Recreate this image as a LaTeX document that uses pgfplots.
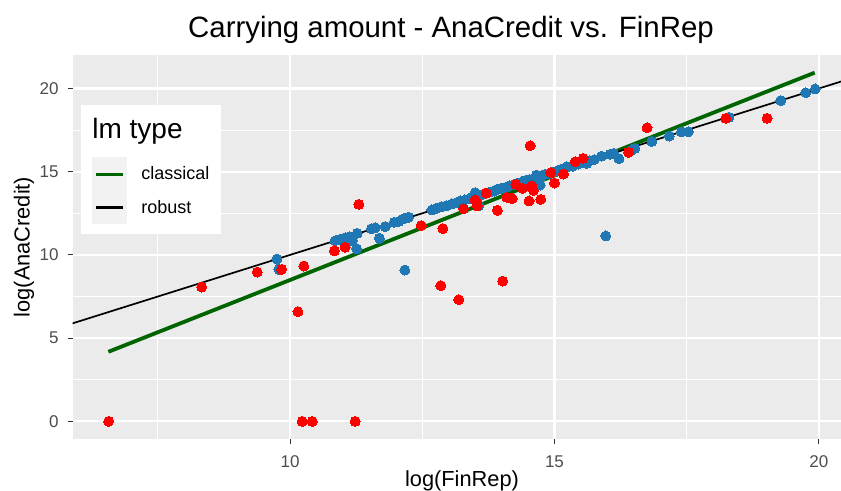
\documentclass[border=0pt]{standalone}
\usepackage{pgfplots}
\pgfplotsset{compat=1.18}
\usepackage{fontspec}
\setmainfont{Liberation Sans}
\definecolor{ggbg}{HTML}{EBEBEB}
\definecolor{ggkey}{HTML}{F2F2F2}
\definecolor{ggtick}{HTML}{333333}
\definecolor{gglab}{HTML}{4D4D4D}
\definecolor{ptblue}{HTML}{1F77B4}
\definecolor{ptred}{HTML}{FF0000}
\definecolor{lgreen}{HTML}{006400}
\begin{document}
\begin{tikzpicture}
\useasboundingbox (-36.35bp,-26bp) rectangle (384.15bp,219.5bp);
\begin{axis}[
  at={(0,0)}, anchor=south west,
  scale only axis, width=384.2bp, height=191.9bp,
  xmin=5.89, xmax=20.42, ymin=-1.06, ymax=22.0,
  axis background/.style={fill=ggbg},
  axis line style={draw=none},
  xtick={10,15,20}, ytick={0,5,10,15,20},
  minor xtick={7.5,12.5,17.5}, minor ytick={2.5,7.5,12.5,17.5},
  grid=both,
  major grid style={white, line width=1.07bp},
  minor grid style={white, line width=0.55bp},
  tick align=outside, major tick length=2.3bp, minor tick length=0pt,
  xtick pos=bottom, ytick pos=left,
  tick style={color=ggtick, line width=0.55bp},
  /pgf/number format/assume math mode=true,
  ticklabel style={font=\fontsize{8.5bp}{9bp}\selectfont, text=gglab, inner sep=0pt},
  xticklabel style={anchor=base, yshift=-11.7bp},
  yticklabel style={anchor=east, xshift=-4.6bp},
  clip=true,
]
\addplot[only marks, mark=*, mark size=2.5bp, color=ptblue, mark options={draw=ptblue, fill=ptblue, line width=0pt}] coordinates {
(9.75,9.75) (9.79,9.13) (10.85,10.85) (10.95,10.94) (11.04,11.03) (11.13,11.09)
(11.18,10.85) (11.27,11.30) (11.26,10.37) (11.54,11.56) (11.61,11.63) (11.69,11.00)
(11.80,11.70) (11.97,11.96) (12.05,12.00) (12.14,12.16) (12.24,12.26) (12.17,9.09)
(12.68,12.70) (12.77,12.80) (12.87,12.90) (12.96,12.96) (13.06,13.06) (13.15,13.14)
(13.22,13.24) (13.30,13.30) (13.38,13.36) (13.45,13.47) (13.50,13.74) (13.55,13.55)
(13.62,13.60) (13.70,13.72) (13.78,13.78) (13.86,13.84) (13.93,13.95) (14.00,14.01)
(14.08,14.06) (14.15,14.16) (14.22,14.21) (14.30,14.30) (14.38,14.37) (14.45,14.47)
(14.52,14.52) (14.60,14.58) (14.66,14.80) (14.73,14.20) (14.75,14.72) (14.82,14.84)
(14.90,14.88) (14.97,14.98) (15.05,15.04) (15.12,15.14) (15.23,15.30) (15.35,15.34)
(15.45,15.46) (15.61,15.50) (15.67,15.66) (15.75,15.72) (15.89,15.94) (16.05,16.04)
(16.22,15.78) (16.12,16.10) (16.46,16.30) (16.52,16.40) (16.84,16.82) (17.17,17.14)
(17.40,17.40) (17.53,17.40) (18.30,18.27) (19.28,19.27) (19.75,19.75) (19.93,19.97)
(15.97,11.14) (13.57,12.96)
};
\addplot[lgreen, line width=1.9bp] coordinates {(6.565,4.18) (19.92,20.95)};
\addplot[black, line width=0.85bp] coordinates {(5.5,5.5) (21,21)};
\addplot[only marks, mark=*, mark size=2.5bp, color=ptred, mark options={draw=ptred, fill=ptred, line width=0pt}] coordinates {
(6.57,0) (8.33,8.07) (9.38,8.97) (9.84,9.13) (10.26,9.33) (10.15,6.59)
(10.23,0) (10.42,0) (11.23,0) (10.84,10.25) (11.04,10.46) (11.30,13.04)
(12.48,11.76) (12.89,11.58) (12.85,8.15) (13.19,7.31) (14.02,8.43) (13.28,12.78)
(13.50,13.30) (13.53,13.10) (13.54,12.94) (13.71,13.72) (13.92,12.68) (14.10,13.46)
(14.20,13.38) (14.27,14.24) (14.40,14.00) (14.57,14.16) (14.60,13.88) (14.52,13.24)
(14.74,13.34) (14.54,16.56) (14.93,14.94) (15.00,14.32) (15.17,14.86) (15.39,15.60)
(15.54,15.80) (16.40,16.16) (16.75,17.64) (18.24,18.21) (19.02,18.21)
};
\end{axis}
% title and axis titles
\node[anchor=base, font=\fontsize{14.7bp}{16bp}\selectfont] at (189.15bp,200.5bp) {Carrying amount - AnaCredit vs. FinRep};
\node[anchor=base, font=\fontsize{10.9bp}{12bp}\selectfont] at (194.65bp,-23.5bp) {log(FinRep)};
\node[anchor=base, rotate=90, font=\fontsize{10.9bp}{12bp}\selectfont] at (-21.5bp,96bp) {log(AnaCredit)};
% legend
\fill[white] (4.15bp,102.35bp) rectangle (74.0bp,167bp);
\fill[ggkey] (9.8bp,107.5bp) rectangle (27.0bp,141.15bp);
\draw[lgreen, line width=1.6bp] (11.65bp,132.35bp) -- (25.15bp,132.35bp);
\draw[black, line width=1.6bp] (11.65bp,115.65bp) -- (25.15bp,115.65bp);
\node[anchor=base west, inner sep=0pt, font=\fontsize{14bp}{16bp}\selectfont] at (9.65bp,150bp) {lm type};
\node[anchor=base west, inner sep=0pt, font=\fontsize{9bp}{10bp}\selectfont] at (34.15bp,129.5bp) {classical};
\node[anchor=base west, inner sep=0pt, font=\fontsize{9bp}{10bp}\selectfont] at (34.15bp,112.5bp) {robust};
\end{tikzpicture}
\end{document}
